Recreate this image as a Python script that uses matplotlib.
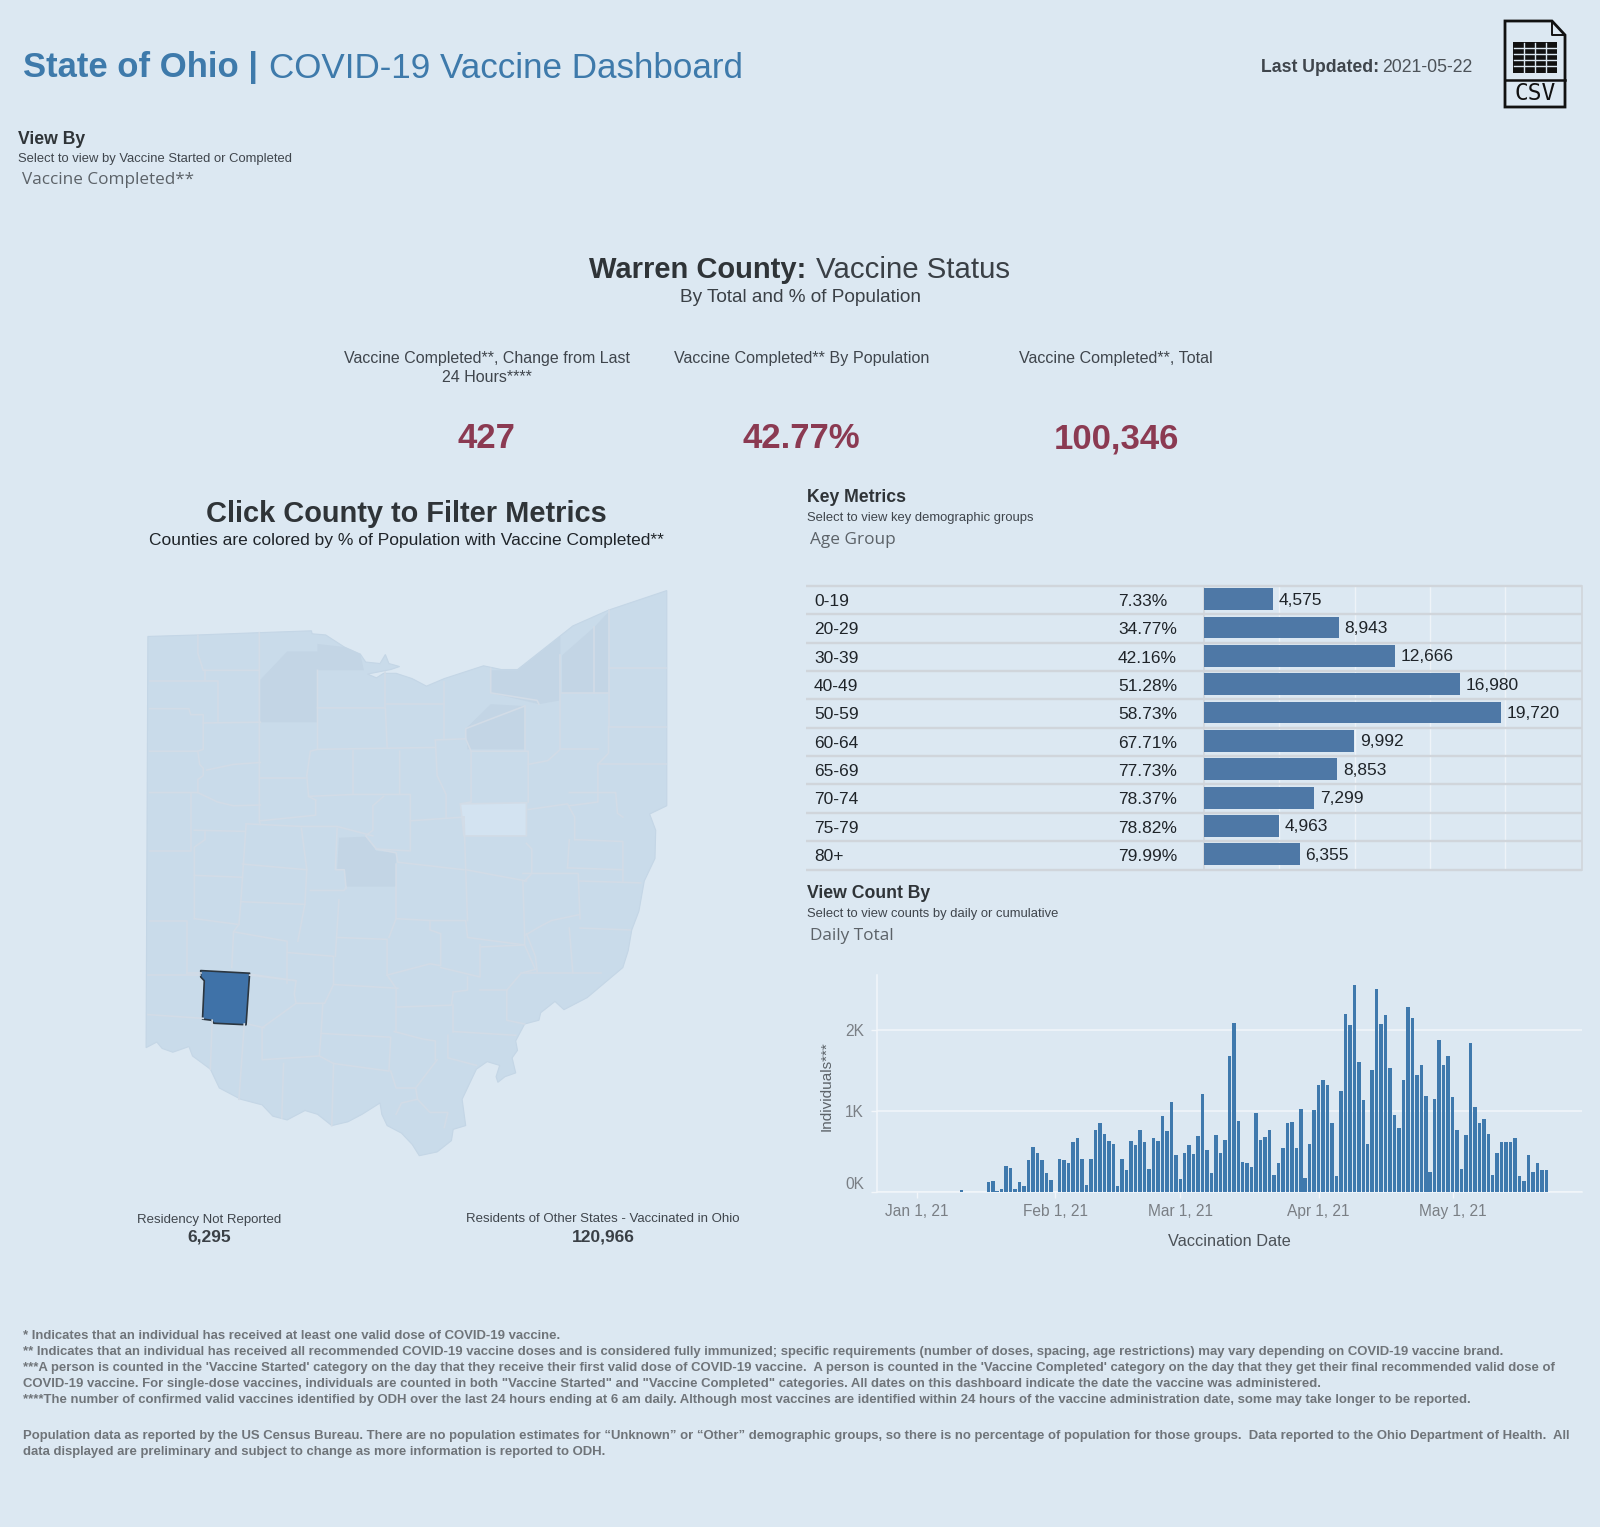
import pandas as pd
import matplotlib
matplotlib.use("Agg")
import matplotlib.pyplot as plt
import matplotlib.dates as mdates
from matplotlib.patches import Polygon, Rectangle

plt.rcParams['font.family'] = ['Liberation Sans', 'DejaVu Sans']

BG = '#dce8f2'
W, H = 1600, 1527

# key metrics table
age_groups = ['0-19', '20-29', '30-39', '40-49', '50-59', '60-64', '65-69', '70-74', '75-79', '80+']
age_pct = ['7.33%', '34.77%', '42.16%', '51.28%', '58.73%', '67.71%', '77.73%', '78.37%', '78.82%', '79.99%']
age_total = [4575, 8943, 12666, 16980, 19720, 9992, 8853, 7299, 4963, 6355]

# daily counts; first entry is Jan 6
daily_start = '2021-01-06'
daily_counts = [4, 4, 4, 4, 0, 30, 0, 4, 4, 4, 0,
                130, 145, 15, 35, 325, 295, 35, 130, 75, 400,
                560, 490, 400, 235, 150, 0, 415, 400, 360, 615,
                670, 415, 90, 415, 775, 850, 725, 635, 600, 75,
                415, 270, 630, 580, 775, 615, 290, 670, 630, 940,
                760, 1120, 455, 160,
                490, 580, 470, 690, 1210, 525, 235, 705, 490, 650,
                1680, 2095, 885, 380, 360, 310, 980, 650, 685, 775,
                215, 365, 545, 850, 870, 545, 1030, 180, 600, 1010,
                1320, 1390, 1320, 850, 200, 1250, 2200, 2060, 2565, 1605,
                1135, 600, 1515, 2510, 2075, 2185, 1535, 960, 800, 1390,
                2290, 2150, 1445, 1570, 1195, 250, 1155, 1880, 1570, 1680,
                1175, 775, 290, 705, 1845, 1050, 850, 905, 725, 215,
                490, 615, 615, 615, 670, 200, 145, 455, 250, 365,
                270, 270]
date_ticks = ['2021-01-01', '2021-02-01', '2021-03-01', '2021-04-01', '2021-05-01']

# map shapes
ohio_outline = [(50, 150), (190, 146), (360, 140), (508, 135), (510, 143), (548, 146), (600, 178), (645, 197),
                (660, 218), (700, 222), (715, 198), (725, 222), (755, 230), (730, 238), (665, 250), (690, 260),
                (710, 248), (745, 248), (790, 262), (830, 282), (880, 262), (990, 228), (1040, 238), (1085, 238),
                (1240, 122), (1340, 80), (1503, 28), (1503, 600), (1455, 622), (1472, 665), (1470, 740), (1440, 800),
                (1425, 880), (1405, 930), (1395, 985), (1380, 1030), (1330, 1070), (1280, 1110), (1215, 1142),
                (1190, 1120), (1150, 1150), (1145, 1170), (1105, 1180), (1080, 1225), (1085, 1250), (1070, 1270),
                (1080, 1310), (1050, 1320), (1030, 1335), (1025, 1320), (1035, 1290), (1000, 1280), (970, 1300),
                (940, 1360), (930, 1380), (940, 1450), (905, 1460), (900, 1490), (860, 1520), (810, 1530), (790, 1500),
                (760, 1470), (720, 1450), (705, 1420), (700, 1390), (650, 1420), (610, 1440), (565, 1450), (525, 1420),
                (490, 1410), (440, 1435), (400, 1425), (370, 1395), (310, 1380), (250, 1350), (225, 1300), (175, 1265),
                (165, 1240), (120, 1255), (90, 1245), (75, 1228), (45, 1243)]
warren = [(198, 1038), (335, 1045), (325, 1182), (235, 1178), (228, 1170), (203, 1167), (208, 1065), (198, 1055)]
holmes = [(925, 595), (1112, 592), (1110, 680), (935, 680)]
dark_counties = [
    [(585, 685), (660, 682), (690, 720), (745, 725), (745, 815), (605, 815), (600, 770), (580, 770)],
    [(365, 265), (440, 190), (525, 190), (525, 378), (365, 378)],
    [(525, 170), (600, 178), (645, 197), (655, 240), (525, 240)],
    [(940, 395), (1010, 330), (1105, 335), (1105, 450), (945, 450)],
    [(1210, 200), (1300, 125), (1340, 85), (1340, 300), (1210, 300)],
    [(1010, 240), (1085, 240), (1205, 150), (1205, 320), (1145, 330), (1010, 300)],
]
county_lines = [
    [(190, 146), (190, 195), (205, 240), (360, 240)], [(362, 140), (362, 640), (365, 650)],
    [(55, 268), (245, 268), (245, 375)], [(210, 240), (210, 265)],
    [(55, 342), (165, 342), (170, 358), (205, 358), (205, 450), (190, 455), (55, 455)],
    [(205, 380), (365, 378)], [(190, 455), (195, 490), (205, 500), (205, 520), (190, 530), (190, 565), (55, 565)],
    [(215, 505), (290, 490), (365, 485)], [(190, 565), (245, 590), (290, 600), (365, 598)],
    [(172, 565), (172, 720), (55, 720)], [(180, 665), (320, 668)], [(210, 670), (210, 690), (180, 710), (180, 900)],
    [(55, 905), (160, 905), (160, 1045)], [(50, 1050), (195, 1050)], [(180, 785), (315, 790)],
    [(325, 650), (315, 790), (310, 860), (305, 915)], [(325, 648), (480, 655), (580, 655), (680, 680)],
    [(525, 340), (715, 340), (720, 445)], [(715, 245), (715, 340)],
    [(525, 240), (525, 450), (505, 455), (495, 520), (500, 575), (520, 585)], [(365, 525), (490, 525)],
    [(365, 640), (520, 625), (520, 585)], [(525, 450), (855, 445)], [(720, 330), (880, 330)], [(880, 270), (880, 420)],
    [(855, 425), (940, 422), (940, 395), (1105, 335)], [(855, 425), (860, 520), (885, 570), (885, 630)],
    [(940, 422), (955, 455), (1115, 455), (1115, 590)], [(955, 455), (955, 590), (925, 595), (1110, 592)],
    [(925, 595), (935, 680), (1110, 680), (1110, 592)], [(625, 455), (625, 570)],
    [(500, 575), (625, 570), (755, 570)], [(755, 455), (755, 570), (785, 570), (785, 720), (690, 715)],
    [(680, 600), (710, 575)], [(680, 600), (680, 665), (660, 680), (690, 715)], [(690, 715), (745, 725), (750, 750), (935, 770)],
    [(785, 640), (935, 630)], [(935, 630), (940, 770), (1110, 800)], [(580, 660), (575, 770), (600, 770), (605, 820)],
    [(480, 660), (495, 770), (490, 860), (470, 960)], [(315, 755), (495, 770)], [(310, 855), (490, 862)],
    [(305, 915), (290, 935), (285, 1030)], [(180, 900), (300, 915)],
    [(290, 935), (440, 960), (440, 990), (570, 1000), (570, 1075), (545, 1125), (465, 1125), (460, 1100), (465, 1065), (340, 1048)],
    [(440, 990), (440, 1070)], [(505, 825), (600, 825), (605, 815)], [(585, 850), (575, 1000)], [(580, 950), (720, 955), (720, 1050)],
    [(745, 815), (745, 900), (725, 950)], [(745, 755), (745, 900), (840, 905), (940, 905), (945, 950), (1105, 970), (1105, 945), (1100, 800)],
    [(940, 770), (945, 905)], [(720, 1050), (840, 1020), (870, 1025), (870, 940), (840, 930), (840, 905)],
    [(870, 1030), (980, 1055), (980, 970)], [(985, 975), (1105, 970), (1135, 1035), (1095, 1045), (1055, 1090), (1055, 1170), (1105, 1180)],
    [(980, 1090), (1055, 1090)], [(905, 1095), (945, 1090), (945, 1055)], [(745, 1130), (745, 1085), (720, 1050)],
    [(570, 1075), (750, 1085)], [(745, 1135), (900, 1130), (905, 1095)], [(905, 1130), (905, 1200)], [(905, 1200), (1080, 1210)],
    [(890, 1210), (890, 1270), (970, 1290)], [(740, 1200), (820, 1220), (855, 1225), (855, 1275)],
    [(540, 1125), (535, 1205), (730, 1215), (725, 1305), (570, 1285)], [(370, 1190), (465, 1125)],
    [(370, 1190), (370, 1275), (530, 1265), (570, 1285)], [(535, 1205), (530, 1265)], [(570, 1285), (565, 1450)],
    [(430, 1285), (425, 1430)], [(320, 1180), (305, 1380)], [(230, 1170), (225, 1300)], [(745, 1200), (745, 1135)],
    [(730, 1305), (745, 1350), (800, 1350), (805, 1380), (760, 1390), (745, 1420)], [(800, 1350), (860, 1275)],
    [(805, 1380), (840, 1415), (890, 1415), (880, 1455)], [(1010, 235), (1010, 300), (1140, 320), (1145, 330)],
    [(1105, 335), (1105, 455)], [(1205, 200), (1205, 450)], [(1300, 125), (1300, 300)], [(1210, 300), (1340, 300)],
    [(1340, 80), (1340, 390)], [(1340, 235), (1500, 235)], [(1340, 390), (1500, 390)], [(1340, 390), (1340, 460), (1310, 490)],
    [(1205, 450), (1170, 480), (1115, 490)], [(1310, 490), (1500, 490)], [(1205, 450), (1310, 450)],
    [(1310, 490), (1310, 590), (1230, 600)], [(1115, 610), (1225, 595), (1245, 630), (1245, 690)],
    [(1230, 565), (1360, 565), (1365, 620), (1380, 630)], [(1245, 690), (1380, 695), (1380, 800)], [(1225, 765), (1380, 770)],
    [(1225, 765), (1230, 690)], [(1110, 700), (1125, 715), (1125, 780), (1105, 800)], [(1260, 800), (1430, 805)],
    [(1100, 780), (1255, 780), (1260, 900)], [(1260, 925), (1400, 930)], [(1255, 890), (1180, 905), (1140, 925), (1105, 945)],
    [(1230, 925), (1240, 1045)], [(1095, 1045), (1320, 1045)], [(1140, 1040), (1135, 1000), (1110, 940)],
    [(50, 1155), (205, 1165)], [(330, 1180), (375, 1190)], [(335, 1050), (465, 1065)], [(160, 1045), (200, 1045)],
]

footnotes = [
    "* Indicates that an individual has received at least one valid dose of COVID-19 vaccine.",
    "** Indicates that an individual has received all recommended COVID-19 vaccine doses and is considered fully immunized; specific requirements (number of doses, spacing, age restrictions) may vary depending on COVID-19 vaccine brand.",
    "***A person is counted in the 'Vaccine Started' category on the day that they receive their first valid dose of COVID-19 vaccine.  A person is counted in the 'Vaccine Completed' category on the day that they get their final recommended valid dose of",
    "COVID-19 vaccine. For single-dose vaccines, individuals are counted in both \"Vaccine Started\" and \"Vaccine Completed\" categories. All dates on this dashboard indicate the date the vaccine was administered.",
    "****The number of confirmed valid vaccines identified by ODH over the last 24 hours ending at 6 am daily. Although most vaccines are identified within 24 hours of the vaccine administration date, some may take longer to be reported.",
    "Population data as reported by the US Census Bureau. There are no population estimates for \u201cUnknown\u201d or \u201cOther\u201d demographic groups, so there is no percentage of population for those groups.  Data reported to the Ohio Department of Health.  All",
    "data displayed are preliminary and subject to change as more information is reported to ODH.",
]
footnote_y = [1334, 1350, 1366, 1382, 1398, 1434, 1450]


def px_axes(left, top, right, bottom):
    ax = fig.add_axes([left / W, 1 - bottom / H, (right - left) / W, (bottom - top) / H])
    ax.set_facecolor('none')
    return ax


fig = plt.figure(figsize=(16, 15.27), dpi=100, facecolor=BG)
page = px_axes(0, 0, W, H)
page.set_xlim(0, W)
page.set_ylim(H, 0)
page.axis('off')


def txt(x, y, s, size, color='#333a40', weight='normal', ha='left', **kw):
    # va center sits about 2px high against the reference
    page.text(x, y + 2, s, fontsize=size, color=color, weight=weight, ha=ha, va='center', **kw)


# header
txt(23, 66, 'State of Ohio |', 24.9, '#3e7aab', 'bold')
txt(269, 66, 'COVID-19 Vaccine Dashboard', 25.2, '#3e7aab')
txt(1261, 65, 'Last Updated:', 12.7, '#3f454c', 'bold')
txt(1382, 65, '2021-05-22', 12.7, '#4c5258')

# csv icon
page.add_patch(Polygon([(1505, 21), (1552, 21), (1565, 35), (1565, 107), (1505, 107)], closed=True, fc='none', ec='#111111', lw=2))
page.plot([1552, 1552, 1565], [21, 35, 35], color='#111111', lw=1.4)
page.add_patch(Rectangle((1513, 42), 44, 31, fc='#111111', ec='none'))
for gy in [48, 54, 60, 66]:
    page.plot([1514, 1556], [gy, gy], color=BG, lw=1)
for gx in [1524, 1535, 1546]:
    page.plot([gx, gx], [43, 72], color=BG, lw=1)
page.plot([1505, 1565], [80, 80], color='#111111', lw=1.8)
txt(1535, 91.5, 'CSV', 16.5, '#111111', ha='center', family='DejaVu Sans Mono')

txt(18.5, 138, 'View By', 12.7, '#2f3438', 'bold')
txt(18.5, 157, 'Select to view by Vaccine Started or Completed', 9.4, '#3f454c')
txt(22.5, 178.5, 'Vaccine Completed**', 12.3, '#5c6268', family='Open Sans')

# center heading and KPIs
txt(589, 267.5, 'Warren County:', 21, '#2f3438', 'bold')
txt(816, 267.5, 'Vaccine Status', 21.2, '#3a4046')
txt(800, 296, 'By Total and % of Population', 13.7, '#3a4046', ha='center')
txt(487, 357, 'Vaccine Completed**, Change from Last', 11.55, '#3f454c', ha='center')
txt(487, 375.5, '24 Hours****', 11.55, '#3f454c', ha='center')
txt(802, 357, 'Vaccine Completed** By Population', 11.6, '#3f454c', ha='center')
txt(1116, 357, 'Vaccine Completed**, Total', 11.6, '#3f454c', ha='center')
for cx, val in zip([486, 801, 1116], ['427', '42.77%', '100,346']):
    txt(cx, 437, val, 25, '#8b3a52', 'bold', ha='center')

txt(406, 512, 'Click County to Filter Metrics', 20.9, '#2f3438', 'bold', ha='center')
txt(406, 539, 'Counties are colored by % of Population with Vaccine Completed**', 12.55, '#1f2429', ha='center')

# map
ax_map = px_axes(130, 580, 690, 1170)
ax_map.set_xlim(0, 1568)
ax_map.set_ylim(1568, 0)
ax_map.axis('off')
ax_map.add_patch(Polygon(ohio_outline, closed=True, fc='#c9dbea', ec='#c4d6e6', lw=0.8))
for shape in dark_counties:
    ax_map.add_patch(Polygon(shape, closed=True, fc='#c3d5e5', ec='none'))
ax_map.add_patch(Polygon(holmes, closed=True, fc='#d3e3f1', ec='none'))
for line in county_lines:
    xs, ys = zip(*line)
    ax_map.plot(xs, ys, color='#d2dce7', lw=1.2, solid_joinstyle='round')
ax_map.add_patch(Polygon(warren, closed=True, fc='#3f72a8', ec='#2b3640', lw=1.2, joinstyle='round'))

txt(209, 1217.5, 'Residency Not Reported', 9.5, '#3f454c', ha='center')
txt(209, 1235.5, '6,295', 12.5, '#3a4046', 'bold', ha='center')
txt(603, 1217.5, 'Residents of Other States - Vaccinated in Ohio', 9.5, '#3f454c', ha='center')
txt(603, 1235.5, '120,966', 12.5, '#3a4046', 'bold', ha='center')

# key metrics
txt(807, 496, 'Key Metrics', 12.7, '#2f3438', 'bold')
txt(807, 516, 'Select to view key demographic groups', 9.4, '#3f454c')
txt(810, 538, 'Age Group', 12.4, '#5c6268', family='Open Sans')

GRID_GREY = '#d0d5db'
ax_lab = px_axes(806, 586, 1204, 869.5)
ax_lab.set_xlim(806, 1204)
ax_lab.set_ylim(10, 0)
ax_lab.axis('off')
ax_lab.hlines(range(11), 806, 1204, color=GRID_GREY, lw=1.7, clip_on=False)
for i, (grp, pct) in enumerate(zip(age_groups, age_pct)):
    ax_lab.text(814, i + 0.54, grp, fontsize=12.5, color='#1f2429', va='center')
    ax_lab.text(1118, i + 0.54, pct, fontsize=12.5, color='#1f2429', va='center')

ax_bar = px_axes(1204, 586, 1582, 869.5)
ax_bar.barh(range(len(age_total)), age_total, height=0.77, align='edge', color='#4e78a6', zorder=3)
for p in ax_bar.patches:
    p.set_y(p.get_y() + 0.08)
ax_bar.set_xlim(0, 378 / 0.01506)
ax_bar.set_ylim(10, 0)
ax_bar.set_xticks([5000, 10000, 15000, 20000])
ax_bar.grid(axis='x', color='#eef3f8', lw=1)
ax_bar.set_axisbelow(True)
ax_bar.tick_params(left=False, bottom=False, labelleft=False, labelbottom=False)
ax_bar.hlines(range(11), 0, 378 / 0.01506, color=GRID_GREY, lw=1.7, clip_on=False, zorder=1)
for name in ['top', 'bottom']:
    ax_bar.spines[name].set_visible(False)
for name in ['left', 'right']:
    ax_bar.spines[name].set_color(GRID_GREY)
    ax_bar.spines[name].set_linewidth(1.2)
for i, v in enumerate(age_total):
    ax_bar.text(v + 380, i + 0.5, f'{v:,}', fontsize=12.5, color='#1f2429', va='center')

# daily counts
txt(807, 892, 'View Count By', 12.7, '#2f3438', 'bold')
txt(807, 912, 'Select to view counts by daily or cumulative', 9.4, '#3f454c')
txt(810, 934, 'Daily Total', 12.4, '#5c6268', family='Open Sans')

days = pd.date_range(daily_start, periods=len(daily_counts), freq='D')
ax_day = px_axes(876.7, 975, 1582, 1192.3)
ax_day.bar(days, daily_counts, width=0.78, color='#3f79ad', zorder=3)
ax_day.set_xlim(pd.Timestamp('2021-01-01') - pd.Timedelta(days=9), pd.Timestamp('2021-01-01') + pd.Timedelta(days=149))
ax_day.set_ylim(0, 217.3 / 81 * 1000)
ax_day.set_xticks(pd.to_datetime(date_ticks))
ax_day.xaxis.set_major_formatter(mdates.DateFormatter('%b %-d, %y'))
ax_day.set_yticks([0, 1000, 2000])
ax_day.set_yticklabels(['0K', '1K', '2K'])
ax_day.get_yticklabels()[0].set_va('bottom')
ax_day.grid(axis='y', color='#f2f6fa', lw=1.1)
ax_day.set_axisbelow(True)
ax_day.tick_params(axis='both', color='#f2f6fa', length=4.3, width=1, labelcolor='#7a7f85', labelsize=11.2, pad=5)
ax_day.tick_params(axis='x', pad=4)
for name in ['top', 'right']:
    ax_day.spines[name].set_visible(False)
for name in ['left', 'bottom']:
    ax_day.spines[name].set_color('#f2f6fa')
    ax_day.spines[name].set_linewidth(1.1)
txt(827, 1084, 'Individuals***', 11, '#5c6268', ha='center', rotation=90)
txt(1229, 1240, 'Vaccination Date', 11.8, '#4c5258', ha='center')

# footnotes
for y, line in zip(footnote_y, footnotes):
    txt(23, y, line, 9.46, '#6f7479', 'bold')

fig.savefig('out.png', dpi=100, facecolor=BG)
